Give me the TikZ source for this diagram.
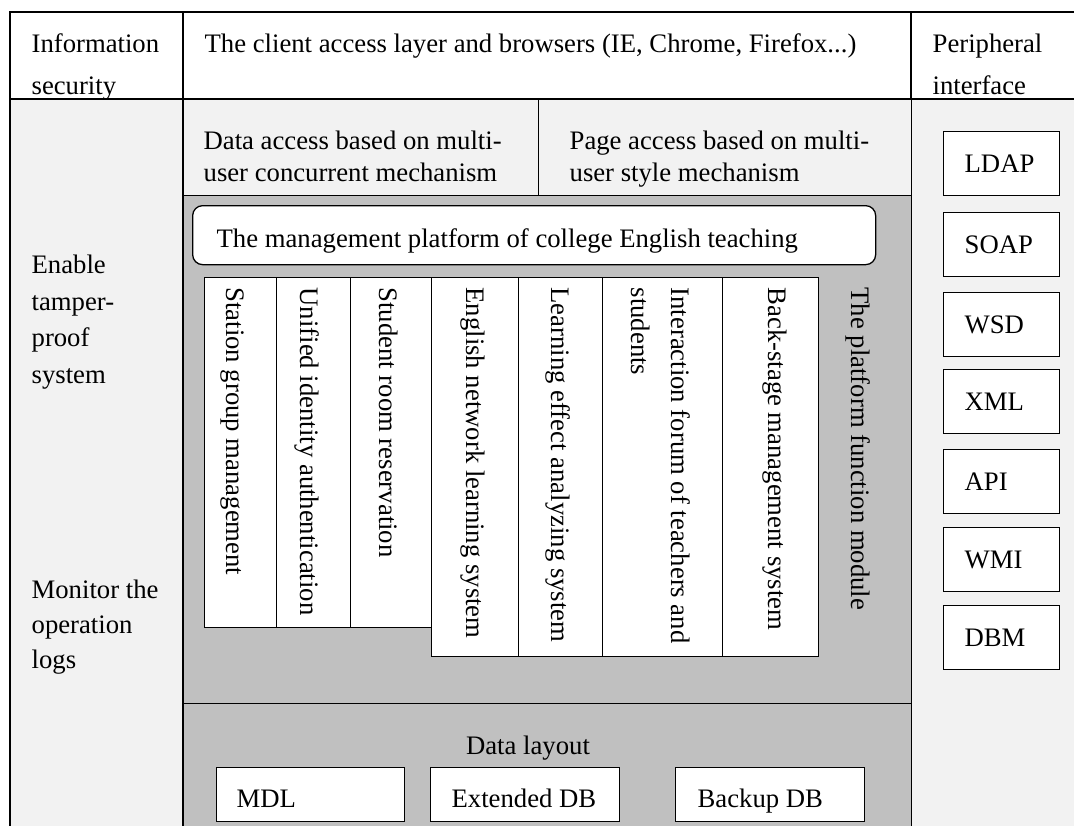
\documentclass[tikz,border=0pt]{standalone}
\usepackage{fontspec}
\setmainfont{Liberation Serif}
\definecolor{lightbg}{HTML}{F2F2F2}
\definecolor{midgrey}{HTML}{C0C0C0}
\begin{document}
\begin{tikzpicture}[x=1pt,y=-1pt, line width=1.3pt,
  every node/.style={inner sep=0pt, font=\fontsize{26.7}{31}\selectfont},
  panel/.style={draw, anchor=north west},
  wbox/.style={draw, fill=white, anchor=north west},
  lbl/.style={anchor=base west, align=left},
  vlbl/.style={rotate=-90, anchor=west, align=left}]
\useasboundingbox (0,0) rectangle (1074,825);
% outer frame
\fill[lightbg] (10,99) rectangle (1090,840);
\fill[white] (10,12) rectangle (1090,99);
\draw (1090,12) -- (10,12) -- (10,840);
\draw (10,99) -- (1090,99);
\draw (183,12) -- (183,840);
\draw (911,12) -- (911,840);
% access row
\node[panel, fill=lightbg, minimum width=355, minimum height=96] (da) at (183,99) {};
\node[panel, fill=lightbg, minimum width=373, minimum height=96] (pa) at (538,99) {};
% grey areas
\node[panel, fill=midgrey, minimum width=728, minimum height=508] (fm) at (183,195) {};
\node[panel, fill=midgrey, minimum width=728, minimum height=140] (dl) at (183,703) {};
% management platform
\node[wbox, rounded corners=10pt, minimum width=683, minimum height=59] (mp) at (192,205) {};
% function columns
\node[wbox, minimum width=72, minimum height=350] (c1) at (204,277) {};
\node[wbox, minimum width=74, minimum height=350] (c2) at (276,277) {};
\node[wbox, minimum width=81, minimum height=350] (c3) at (350,277) {};
\node[wbox, minimum width=87, minimum height=379] (c4) at (431,277) {};
\node[wbox, minimum width=84, minimum height=379] (c5) at (518,277) {};
\node[wbox, minimum width=120, minimum height=379] (c6) at (602,277) {};
\node[wbox, minimum width=96, minimum height=379] (c7) at (722,277) {};
% peripheral boxes
\foreach \n/\y/\t in {ldap/131/LDAP, soap/212/SOAP, wsd/292/WSD, xml/369/XML, api/449/API, wmi/527/WMI, dbm/605/DBM}{
  \node[wbox, minimum width=116, minimum height=64] (\n) at (943,\y) {};
  \node[anchor=west] (\n-t) at ([xshift=21pt]\n.west) {\t};
}
% data boxes
\node[wbox, minimum width=188, minimum height=54] (mdl) at (216,767) {};
\node[wbox, minimum width=189, minimum height=54] (edb) at (430,767) {};
\node[wbox, minimum width=189, minimum height=54] (bdb) at (675,767) {};
% texts (multi-line nodes are placed by the baseline of their last line)
\node[lbl, font=\fontsize{26.7}{42}\selectfont] (t-is) at (31,94) {Information\\security};
\node[lbl] (t-cl) at (204,52) {The client access layer and browsers (IE, Chrome, Firefox...)};
\node[lbl, font=\fontsize{26.7}{42}\selectfont] (t-pi) at (932,94) {Peripheral\\interface};
\node[lbl, font=\fontsize{26.7}{32}\selectfont] (t-da) at (203,181) {Data access based on multi-\\user concurrent mechanism};
\node[lbl, font=\fontsize{26.7}{32}\selectfont] (t-pa) at (569,181) {Page access based on multi-\\user style mechanism};
\node[lbl] (t-mp) at (216,247) {The management platform of college English teaching};
\node[lbl, font=\fontsize{26.7}{36.5}\selectfont] (t-en) at (31,383) {Enable\\tamper-\\proof\\system};
\node[lbl, font=\fontsize{26.7}{35}\selectfont] (t-mo) at (31,668) {Monitor the\\operation\\logs};
\node[anchor=base] (t-dl) at (528,754) {Data layout};
\node[lbl] (t-mdl) at (236,807) {MDL};
\node[lbl] (t-edb) at (451,807) {Extended DB};
\node[lbl] (t-bdb) at (697,807) {Backup DB};
% vertical texts
\node[vlbl] (v1) at (232,287) {Station group management};
\node[vlbl] (v2) at (307,287) {Unified identity authentication};
\node[vlbl] (v3) at (389,287) {Student room reservation};
\node[vlbl] (v4) at (473,287) {English network learning system};
\node[vlbl] (v5) at (558,287) {Learning effect analyzing system};
\node[vlbl, font=\fontsize{26.7}{40}\selectfont] (v6) at (661,287) {Interaction forum of teachers and\\students};
\node[vlbl] (v7) at (775,287) {Back-stage management system};
\node[vlbl] (v8) at (858,287) {The platform function module};
\end{tikzpicture}
\end{document}
